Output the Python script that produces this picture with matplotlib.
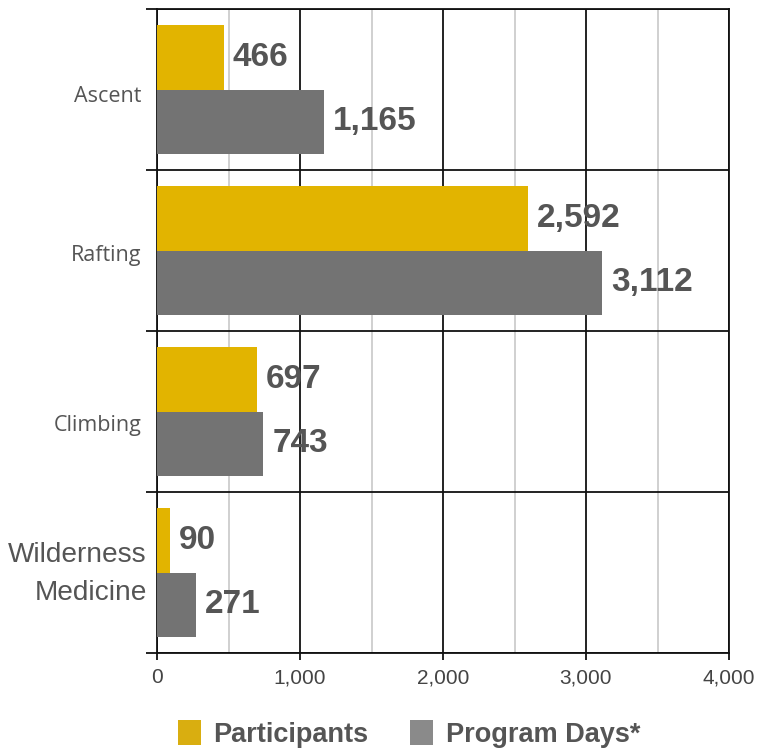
import matplotlib
matplotlib.use("Agg")
import matplotlib.pyplot as plt
from matplotlib.patches import Patch
from matplotlib.transforms import ScaledTranslation
import numpy as np

categories = ["Ascent", "Rafting", "Climbing", "Wilderness\nMedicine"]
participants = [466, 2592, 697, 90]
program_days = [1165, 3112, 743, 271]
x_ticks = [0, 1000, 2000, 3000, 4000]
x_tick_labels = ["0", "1,000", "2,000", "3,000", "4,000"]
series_names = ["Participants", "Program Days*"]

gold = "#E2B400"
gray = "#737373"
text_gray = "#555555"

fig = plt.figure(figsize=(7.58, 7.55), dpi=100)
ax = fig.add_axes([157 / 758, (755 - 653) / 755, 572 / 758, 644 / 755])

y = np.arange(len(categories))
h = 0.4
ax.barh(y - h, participants, height=h, align="edge", color=gold, zorder=3)
ax.barh(y, program_days, height=h, align="edge", color=gray, zorder=3)

for yi, v in zip(y, participants):
    ax.annotate(f"{v:,}", (v, yi - h / 2), xytext=(6.5, 0), textcoords="offset points",
                va="center", ha="left", fontsize=24, fontweight="bold",
                color=text_gray, family="Liberation Sans")
for yi, v in zip(y, program_days):
    ax.annotate(f"{v:,}", (v, yi + h / 2), xytext=(6.5, 0), textcoords="offset points",
                va="center", ha="left", fontsize=24, fontweight="bold",
                color=text_gray, family="Liberation Sans")

ax.set_xlim(0, 4000)
ax.set_ylim(len(categories) - 0.5, -0.5)

# x axis
ax.set_xticks(x_ticks)
ax.set_xticklabels(x_tick_labels, fontsize=15, color="#444444", family="Liberation Sans")
ax.set_xticks(np.arange(500, 4000, 1000), minor=True)
ax.tick_params(axis="x", which="major", length=5, width=1.3, color="#111111", pad=6)
ax.tick_params(axis="x", which="minor", length=0)
ax.grid(axis="x", which="major", color="#111111", linewidth=1.3, zorder=1)
ax.grid(axis="x", which="minor", color="#c4c4c4", linewidth=1.1, zorder=1)

# y axis: boundaries as major ticks, labels as minor ticks
bounds = np.arange(-0.5, len(categories), 1.0)
ax.set_yticks(bounds)
ax.set_yticklabels([""] * len(bounds))
ax.set_yticks(y, minor=True)
ax.set_yticklabels(categories, minor=True)
ax.tick_params(axis="y", which="major", length=8, width=1.3, color="#111111")
ax.tick_params(axis="y", which="minor", length=0, pad=11)
ax.grid(axis="y", which="major", color="#111111", linewidth=1.3, zorder=1)

label_nudge_px = [(0, 4), (0, 3), (0, 12), (5, -7)]
for i, lab in enumerate(ax.get_yticklabels(minor=True)):
    if i < 3:
        lab.set_family("Open Sans")
        lab.set_fontsize(15.5)
    else:
        lab.set_family("Liberation Sans")
        lab.set_fontsize(20.2)
        lab.set_linespacing(1.55)
    lab.set_color(text_gray)
    dx, dy = label_nudge_px[i]
    lab.set_transform(lab.get_transform()
                      + ScaledTranslation(dx / 100, -dy / 100, fig.dpi_scale_trans))

for s in ax.spines.values():
    s.set_color("#111111")
    s.set_linewidth(1.3)
ax.set_axisbelow(True)

handles = [Patch(facecolor="#D9AE10", edgecolor="none"),
           Patch(facecolor="#8a8a8a", edgecolor="none")]
leg = fig.legend(handles, series_names, loc="center", bbox_to_anchor=(409 / 758, 1 - 734 / 755),
                 ncol=2, frameon=False, handlelength=0.85, handleheight=1.0,
                 handletextpad=0.45, columnspacing=1.55,
                 prop={"family": "Liberation Sans", "weight": "bold", "size": 19.5},
                 labelcolor=text_gray)

fig.savefig("out.png", dpi=100)
